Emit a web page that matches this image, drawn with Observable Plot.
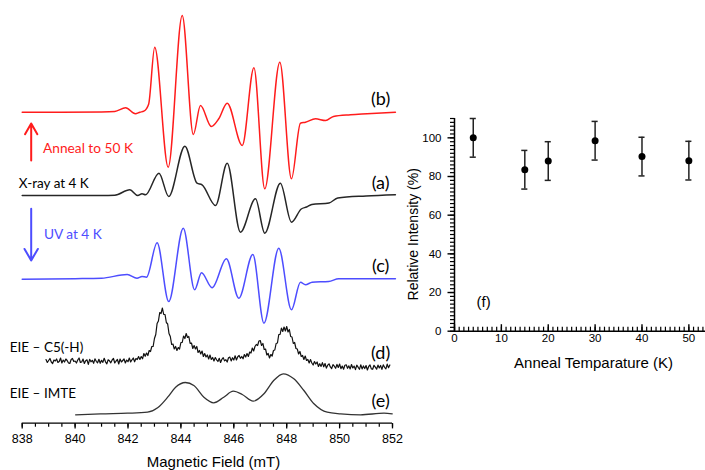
<!DOCTYPE html>
<html><head><meta charset="utf-8">
<script src="https://cdn.jsdelivr.net/npm/d3@7"></script>
<script src="https://cdn.jsdelivr.net/npm/@observablehq/plot@0.6"></script>
<style>
body{margin:0;background:#fff;}
#wrap{position:relative;width:705px;height:470px;overflow:hidden;background:#fff;}
#left,#right{position:absolute;top:0;}
#left{left:0;} #right{left:380px;}
svg{overflow:visible;}
</style></head><body>
<div id="wrap"><div id="left"></div><div id="right"></div></div>
<script>
// ---------- Left panel: EPR spectra (field in mT, intensity in arbitrary units) ----------
const fieldTicks = [838, 840, 842, 844, 846, 848, 850, 852];
const fieldMinor = d3.range(838, 852.01, 0.5);

// (b) Anneal to 50 K  [field, intensity]
const specB = [[838.00,0],[839.50,0],[841.00,0.3],[841.50,0.8],[841.91,4.4],[842.28,-1.6],[842.45,0],[842.60,1],[842.78,8],[843.01,65],[843.52,-55],[844.05,96.7],[844.47,-22.3],[844.74,6.7],[845.15,-14.3],[845.43,-6.6],[845.75,9],[846.32,-33.3],[846.76,44.4],[847.17,-76.6],[847.74,50],[848.18,-66.6],[848.52,-11],[848.71,-10],[849.09,-6.6],[849.47,-8.3],[849.77,-4.3],[850.41,-2.6],[851.04,-1.6],[852.11,0]];
// (a) X-ray at 4 K
const specA = [[838.00,0],[839.50,0],[841.00,0],[841.50,0.3],[842.07,5.7],[842.37,0],[842.53,1.7],[842.66,0.7],[843.17,22.3],[843.54,-1],[844.15,49.3],[844.61,12.3],[844.80,10.7],[845.31,-10],[845.75,32.3],[846.25,-36.7],[846.82,-3.3],[847.17,-37.7],[847.76,12.3],[848.18,-26.7],[848.55,-13.5],[848.75,-11.5],[848.95,-9],[849.60,-7.5],[849.93,-2.5],[851.00,-0.5],[852.11,0.8]];
// (c) UV at 4 K
const specC = [[838.00,-1],[840.00,-0.5],[841.00,0],[841.97,3.7],[842.34,0],[842.53,1.7],[842.70,1],[843.10,35.4],[843.54,-23.3],[844.09,50],[844.52,-11.6],[844.78,5.4],[845.18,-9.6],[845.72,19.4],[846.19,-20],[846.72,23.7],[847.14,-45],[847.70,30],[848.18,-31.6],[848.52,-4],[848.71,-6.6],[848.96,-4],[849.59,-3.3],[849.97,-0.6],[852.11,-0.6]];
// (d) EIE – C5(-H), sampled every 0.05 mT from 838.9 mT
const specDStart = 838.9, specDStep = 0.05;
const specD = [
  3,0,2,4,0.5,-1,2.5,1.5,3.5,0,
  1,4.5,-0.5,2.5,0.5,3.5,2,-0.5,-1,3,
  4,1,1.5,-0.5,2.5,4.5,0,0.5,3.5,-1,
  1.7,2.7,-1.8,3.2,0.7,2.2,-0.8,3.7,1.2,-0.3,
  3.2,-0.8,2.2,0.2,4.2,0.7,-1.3,2.7,1.7,-0.3,
  2.5,4,-0.5,1.5,3,-1.5,3.5,0.5,2,3.5,
  -0.5,2.5,0.8,4.5,0.5,2.7,4.5,0.7,4,3,
  6,3,6,3.7,9,6.2,9.5,7,12,11,
  16,16,24,28,39,41.5,50,49,54.5,48,
  48,40,38.5,29,26,18,18.5,13.5,16,12,
  15,13.5,20,20,26.5,24,29,25,26,19,
  19.5,14,17,13.5,16,10,12,8.5,11.5,6,
  9,5.5,7.5,3.5,7.5,3,5,1.5,5,2.7,
  1,4.2,0,3.2,4.9,1.6,2.8,0.5,4.7,5.4,
  1.6,4.8,2.5,6.7,2.5,5.7,7,4.2,6,3.7,
  8,5.5,9,6,10.5,9.5,14.5,11.5,16,18,
  17,21.5,22,17,19,13,13.5,7.5,9,4.5,
  8,6.5,12,12.5,19,19.5,28,28,34.5,31,
  35.5,31.5,36,30.5,33,26,25.5,19,20,14,
  13.5,8.5,11,6,7,3,6.5,2,3,-0.5,
  3,-0.5,-2.5,1,-1.5,0.5,-4,-1.2,-3.9,-0.1,
  -4.3,-1,-5.6,-2.7,-1.3,-4.4,-6,-2.1,-3.7,-5.8,
  -1.9,-5,-1.5,-6.1,-3.6,-6.7,-2.7,-2.3,-5.8,-3.4,
  -6.4,-2,-5.5,-3.6,-7.1,-2.7,-4.7,-6.8,-2.3,-6.4,
  -3.4,-6,-3,-7.5,-4,-2.4,-6.4,-6.8,-2.8,-4.7,
  -6.7,-2.6,-5.5,-3,-6.9,-2.4,-4.8,-6.3,-1.7,-5.2,
  -2.5];
// (e) EIE – IMTE
const specE = [[840.02,-0.3],[840.96,0.7],[841.98,1.3],[842.74,2.3],[843.12,6.7],[843.50,17.3],[843.80,27.3],[844.17,32],[844.49,29],[844.87,17.3],[845.24,11.7],[845.62,17.3],[845.98,23.3],[846.32,20],[846.73,13.3],[847.14,20.7],[847.51,34],[847.87,40.7],[848.27,35.7],[848.65,24],[849.03,10.7],[849.53,2.3],[850.04,0.7],[850.79,-0.3],[851.68,1.3],[851.99,0.7]];

// vertical stacking offsets (a.u.)
const offsets = {b: 311, a: 227.7, c: 145, d: 60.7, e: 8.7};

// ---------- Right panel: relative intensity vs anneal temperature ----------
const annealT = [4, 15, 20, 30, 40, 50];
const relIntensity = [100, 83.5, 88, 98.5, 90.3, 88.2];
const relError = [10, 10, 10, 10, 10, 10];
const tempTicks = [0, 10, 20, 30, 40, 50];
const intTicks = [0, 20, 40, 60, 80, 100];
const tempMinor = d3.range(0, 54, 1);
const intMinor = d3.range(0, 110.1, 2);

const rows = (pairs, off) => pairs.map(([f, v]) => ({f, y: v + off}));
const rowsD = specD.map((v, i) => ({f: specDStart + i * specDStep, y: v + offsets.d}));

const RED = "#ff1c1c", BLUE = "#4d4dff";
const labelFont = "Lato, 'Open Sans', sans-serif";

// tick-mark symbols (pixel lengths) drawn with Plot.dot at the axis positions
const tickDown = len => ({draw(ctx) { ctx.moveTo(0, 0); ctx.lineTo(0, len); }});
const tickLeft = len => ({draw(ctx) { ctx.moveTo(0, 0); ctx.lineTo(-len, 0); }});
const tickUp = len => ({draw(ctx) { ctx.moveTo(0, 0); ctx.lineTo(0, -len); }});

const left = Plot.plot({
  width: 400, height: 470,
  marginLeft: 21.7, marginRight: 8, marginTop: 0, marginBottom: 47.3,
  x: {domain: [838, 852], axis: null},
  y: {domain: [0, 422.7], axis: null},
  style: {fontFamily: "'Liberation Sans', Arial, sans-serif", fontSize: "12px", background: "transparent", overflow: "visible", color: "#000"},
  marks: [
    // x axis: line, minor and major ticks (pointing down), labels
    Plot.ruleY([0], {x1: 838, x2: 852, stroke: "#000", strokeWidth: 1.3}),
    Plot.dot(fieldMinor, {x: d => d, y: 0, r: 1, symbol: tickDown(3.5), fill: "none", stroke: "#000", strokeWidth: 1.2}),
    Plot.dot(fieldTicks, {x: d => d, y: 0, r: 1, symbol: tickDown(5.2), fill: "none", stroke: "#000", strokeWidth: 1.3}),
    Plot.text(fieldTicks, {x: d => d, y: 0, dy: 15.6, text: d => String(d), fontSize: 12.5, fill: "#000"}),
    Plot.line(rows(specA, offsets.a), {x: "f", y: "y", stroke: "#262626", strokeWidth: 1.5, curve: "monotone-x"}),
    Plot.line(rows(specC, offsets.c), {x: "f", y: "y", stroke: BLUE, strokeWidth: 1.5, curve: "monotone-x"}),
    Plot.line(rowsD, {x: "f", y: "y", stroke: "#111", strokeWidth: 1.2}),
    Plot.line(rows(specE, offsets.e), {x: "f", y: "y", stroke: "#333", strokeWidth: 1.3, curve: "monotone-x"}),
    Plot.line(rows(specB, offsets.b), {x: "f", y: "y", stroke: RED, strokeWidth: 1.5, curve: "monotone-x"}),
    // arrows
    Plot.arrow([0], {x1: 838.34, x2: 838.34, y1: 262.7, y2: 299.7, stroke: RED, strokeWidth: 2, headLength: 10}),
    Plot.arrow([0], {x1: 838.34, x2: 838.34, y1: 214.4, y2: 162.7, stroke: BLUE, strokeWidth: 2, headLength: 10}),
    // trace labels
    Plot.text(["(b)"], {x: 851.55, y: 323.7, fontSize: 18, fontFamily: labelFont, fill: "#000"}),
    Plot.text(["(a)"], {x: 851.55, y: 239.7, fontSize: 18, fontFamily: labelFont, fill: "#000"}),
    Plot.text(["(c)"], {x: 851.55, y: 156.7, fontSize: 18, fontFamily: labelFont, fill: "#000"}),
    Plot.text(["(d)"], {x: 851.55, y: 70, fontSize: 18, fontFamily: labelFont, fill: "#000"}),
    Plot.text(["(e)"], {x: 851.55, y: 21.7, fontSize: 18, fontFamily: labelFont, fill: "#000"}),
    Plot.text(["Anneal to 50 K"], {x: 838.79, y: 274.7, textAnchor: "start", fontSize: 13.7, fontFamily: labelFont, fill: RED}),
    Plot.text(["X-ray at 4 K"], {x: 837.87, y: 239.4, textAnchor: "start", fontSize: 13.5, fontFamily: labelFont, fill: "#000"}),
    Plot.text(["UV at 4 K"], {x: 838.82, y: 188.7, textAnchor: "start", fontSize: 13.7, fontFamily: labelFont, fill: BLUE}),
    Plot.text(["EIE – C5(-H)"], {x: 837.53, y: 76, textAnchor: "start", fontSize: 13.5, fontFamily: labelFont, fill: "#000"}),
    Plot.text(["EIE – IMTE"], {x: 837.53, y: 29.4, textAnchor: "start", fontSize: 13.5, fontFamily: labelFont, fill: "#000"}),
    Plot.text(["Magnetic Field (mT)"], {x: 845.23, y: 0, dy: 39, fontSize: 15, fill: "#000"})
  ]
});
document.getElementById("left").appendChild(left);

const pts = annealT.map((t, i) => ({t, v: relIntensity[i], e: relError[i]}));
const capHalf = 0.65;

const right = Plot.plot({
  width: 325, height: 470,
  marginLeft: 74, marginRight: 0, marginTop: 118, marginBottom: 139.3,
  x: {domain: [0, 53.55], axis: null},
  y: {domain: [0, 110], axis: null},
  style: {fontFamily: "'Liberation Sans', Arial, sans-serif", fontSize: "11.5px", background: "transparent", overflow: "visible", color: "#000"},
  marks: [
    Plot.ruleX([0], {y1: 0, y2: 110, stroke: "#000", strokeWidth: 1.5}),
    Plot.ruleY([0], {x1: 0, x2: 53.55, stroke: "#000", strokeWidth: 1.5}),
    // y ticks pointing left (outside)
    Plot.dot(intMinor, {x: 0, y: d => d, r: 1, symbol: tickLeft(4.5), fill: "none", stroke: "#000", strokeWidth: 1.2}),
    Plot.dot(intTicks, {x: 0, y: d => d, r: 1, symbol: tickLeft(7), fill: "none", stroke: "#000", strokeWidth: 1.4}),
    Plot.text(intTicks, {x: 0, y: d => d, dx: -13, textAnchor: "end", text: d => String(d), fontSize: 11.5, fill: "#000"}),
    // x ticks pointing up (inside)
    Plot.dot(tempMinor, {x: d => d, y: 0, r: 1, symbol: tickUp(4.5), fill: "none", stroke: "#000", strokeWidth: 1.2}),
    Plot.dot(tempTicks, {x: d => d, y: 0, r: 1, symbol: tickUp(7), fill: "none", stroke: "#000", strokeWidth: 1.4}),
    Plot.text(tempTicks, {x: d => d, y: 0, dy: 7.6, text: d => String(d), fontSize: 11.5, fill: "#000"}),
    // error bars and points
    Plot.ruleX(pts, {x: "t", y1: d => d.v - d.e, y2: d => d.v + d.e, stroke: "#222", strokeWidth: 1.5}),
    Plot.ruleY(pts, {y: d => d.v + d.e, x1: d => d.t - capHalf, x2: d => d.t + capHalf, stroke: "#222", strokeWidth: 1.5}),
    Plot.ruleY(pts, {y: d => d.v - d.e, x1: d => d.t - capHalf, x2: d => d.t + capHalf, stroke: "#222", strokeWidth: 1.5}),
    Plot.dot(pts, {x: "t", y: "v", r: 3.5, fill: "#000"}),
    Plot.text(["(f)"], {x: 6.2, y: 14.9, fontSize: 15, fill: "#000"}),
    Plot.text(["Relative Intensity (%)"], {x: -8.75, y: 50.1, rotate: -90, fontSize: 14, fill: "#000"}),
    Plot.text(["Anneal Temparature (K)"], {x: 29.66, y: 0, dy: 32.3, fontSize: 15, fill: "#000"})
  ]
});
document.getElementById("right").appendChild(right);
</script>
</body></html>
